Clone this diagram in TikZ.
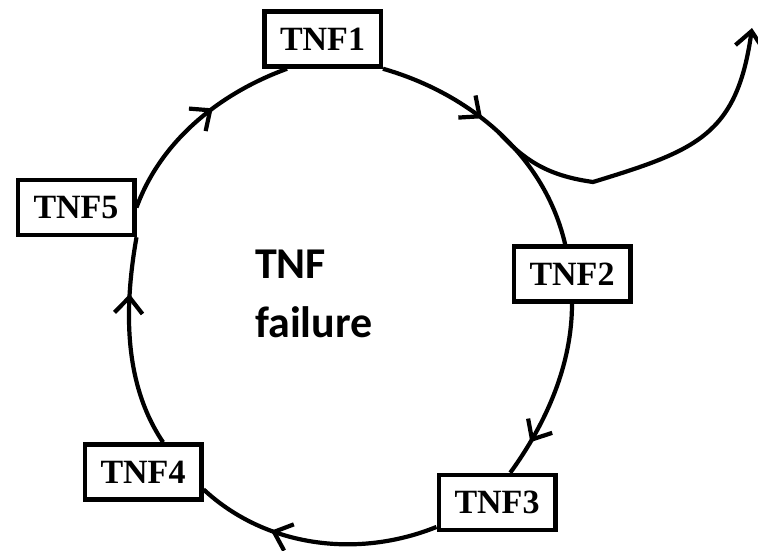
\documentclass[tikz,border=0pt]{standalone}
\usepackage{fontspec}
\setmainfont{Liberation Serif}
\newfontfamily\calfont{Carlito}
\usetikzlibrary{arrows.meta}
\usetikzlibrary{decorations.markings}

\begin{document}
\begin{tikzpicture}[x=1pt, y=1pt,
      >={Straight Barb[length=16pt, width=28pt]},
      tnfbox/.style={draw, line width=4.5pt, fill=white,
        minimum width=116.5pt, minimum height=55pt, inner sep=0pt,
        font=\fontsize{34}{40}\selectfont\bfseries},
      ring/.style={line width=4.2pt},
      midarrow/.style={postaction={decorate},
        decoration={markings,
          mark=at position #1 with {\arrow{>}}}}]
    \useasboundingbox (0,0) rectangle (758,550);
    % the five boxes
    \node[tnfbox] (t1) at (322.5,511) {TNF1};
    \node[tnfbox] (t2) at (572,276) {TNF2};
    \node[tnfbox] (t3) at (497,47.5) {TNF3};
    \node[tnfbox] (t4) at (143,78) {TNF4};
    \node[tnfbox] (t5) at (76,342.5) {TNF5};
    \node[anchor=base west, inner sep=0pt, align=left,
      font=\calfont\bfseries\fontsize{44}{59}\selectfont] (title) at (255,213)
      {TNF\\failure};
    % the ring
    \draw[ring, midarrow=.42] (t1.south east) to[out=-16, in=103, looseness=.92]
      node[coordinate, pos=.5] (split) {} (t2.103);
    \draw[ring, midarrow=.8] (t2.south) to[out=-90, in=54, looseness=.87] (t3.66);
    \draw[ring, midarrow=.68] (t3.202) to[out=202, in=-43, looseness=.92] (t4.344);
    \draw[ring, midarrow=.73] (t4.56) to[out=124, in=-100, looseness=.88] (t5.south east);
    \draw[ring, midarrow=.6] (t5.east) to[out=70, in=200, looseness=.89] (t1.220);
    % the way out
    \coordinate (dip) at (593,368);
    \coordinate (tip) at (752,522);
    \draw[ring, ->] (split) to[out=-48, in=172] (dip)
      to[out=17, in=-98, looseness=1.25] (tip);
  \end{tikzpicture}
\end{document}
